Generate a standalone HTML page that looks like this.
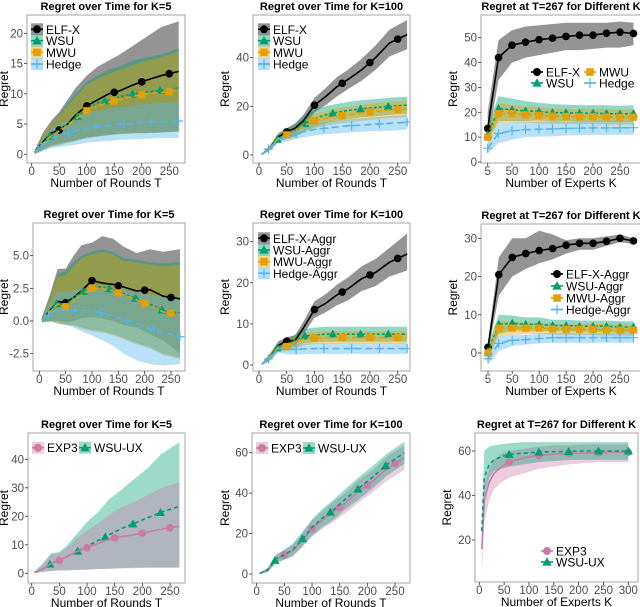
<!DOCTYPE html>
<html><head><meta charset="utf-8"><style>
html,body{margin:0;padding:0;background:#fff}
svg{display:block;font-family:"Liberation Sans",Arial,sans-serif}
</style></head><body>
<svg id="fig" width="640" height="607" viewBox="0 0 640 607"></svg>
<script>
// ---- data ----
const roundsT = [5,20,35,50,65,80,100,120,140,160,185,210,235,267];
const expertsK = [5,25,50,75,100,125,150,175,200,225,250,275];
const expertsK3 = [5,10,20,30,45,60,90,120,150,180,210,240,270,300];

// Panel 1 (K=5)
const p1ElfMean=[0.3,2,3.5,4,5,6.5,8,9,10,10.5,11.5,12.3,13,13.7];
const p1ElfLo=[0,0.8,1.5,1.8,2,2.3,2.8,3,3.2,3.4,3.5,3.5,3.6,3.8];
const p1ElfHi=[0.6,3.5,5.5,7,9,11,13,14.5,15.5,16.5,18,19.5,21,22];
const p1WsuMean=[0.3,1.8,3.2,4,5,6,7.5,8.5,9,9.5,10,10.3,10.6,11];
const p1WsuLo=[0,0.7,1.3,1.6,2,2.3,2.7,3,3.2,3.4,3.5,3.6,3.7,3.8];
const p1WsuHi=[0.6,3,5,6.5,8.5,10,12,13,14,14.5,15.5,16,16.5,17.5];
const p1MwuMean=[0.3,1.8,3,3.8,4.8,5.8,7.2,8,8.6,9,9.6,10,10.2,10.5];
const p1MwuLo=[0,0.7,1.2,1.5,1.9,2.2,2.6,2.9,3.1,3.3,3.4,3.5,3.6,3.7];
const p1MwuHi=[0.6,3,5,6.3,8,9.5,11.5,12.5,13.3,14,14.8,15.5,16,17];
const p1HedgeMean=[0.3,1.5,2.6,3.1,3.5,3.9,4.3,4.6,4.8,5,5.1,5.3,5.4,5.5];
const p1HedgeLo=[0,0.5,1,1.2,1.4,1.6,1.9,2.1,2.2,2.4,2.5,2.6,2.7,2.7];
const p1HedgeHi=[0.6,2.5,4.2,5,5.6,6.2,6.8,7.2,7.5,7.8,8,8.3,8.5,8.6];
// Panel 2 (K=100)
const p2ElfMean=[0.3,3,7.5,9.5,11,14,20.5,24,28,31,35,40,46,49.5];
const p2ElfLo=[0,2,6,8,9,11.5,17.5,20.5,24,27,30.5,35,40.5,43.5];
const p2ElfHi=[0.6,4,9,11,13,16.5,23.5,27.5,32,35,39.5,45,51.5,55.5];
const p2WsuMean=[0.3,3,7,8.5,10,12.5,15,16.5,17.5,18.3,19,19.5,20,20.5];
const p2WsuLo=[0,2,5.5,6.5,7.5,9.5,11.5,13,14,14.8,15.5,16,16.5,17];
const p2WsuHi=[0.6,4,8.5,10.5,12.5,15.5,18.5,20,21,21.8,22.5,23,23.5,24];
const p2MwuMean=[0.3,3,7,8.3,9.5,12,14,15,16,16.5,17.3,18,18.5,19];
const p2MwuLo=[0,2,5.7,6.6,7.5,9.5,11,12,12.8,13.3,14,14.7,15.2,15.6];
const p2MwuHi=[0.6,4,8.3,10,11.5,14.5,17,18,19.2,19.7,20.6,21.3,21.8,22.4];
const p2HedgeMean=[0.3,3,6.5,7.5,8.5,9.5,10.5,11,11.5,12,12.3,12.7,13,13.5];
const p2HedgeLo=[0,2,5,5.5,6.5,7.3,8,8.5,8.8,9.3,9.5,9.9,10,10.5];
const p2HedgeHi=[0.6,4,8,9.5,10.5,11.7,13,13.5,14.2,14.7,15.1,15.5,16,16.5];
// Panel 3 (T=267 vs K)
const p3ElfMean=[13.5,42,47,48.2,49.2,49.8,50.5,51,51,51.8,52.2,51.7];
const p3ElfLo=[8,33,40,42,43,44,45,45,45.5,46,46,47];
const p3ElfHi=[20,49,53,54.5,55,55.5,56,56,56,56,56.5,56];
const p3WsuMean=[11,21.5,21,20.5,20.3,19.8,19.8,19.6,19.6,19.5,19.3,19.5];
const p3WsuLo=[8,16.5,16.5,16.5,16.8,16.3,16.5,16.3,16.3,16.2,16,16.2];
const p3WsuHi=[14,26.5,25.5,24.5,23.8,23.3,23.1,22.9,22.9,22.8,22.6,22.8];
const p3MwuMean=[10,19.5,19.5,19,18.8,18.5,18.3,18.2,18.2,18.1,18,18];
const p3MwuLo=[7,15.5,16,15.7,15.6,15.3,15.3,15.2,15.2,15.1,15,15];
const p3MwuHi=[13,23.5,23,22.3,22,21.7,21.3,21.2,21.2,21.1,21,21];
const p3HedgeMean=[5.5,11.5,12.5,13,13.2,13.3,13.5,13.6,13.7,13.7,13.7,13.8];
const p3HedgeLo=[3.5,7.5,9,10,10.2,10.3,10.7,10.8,10.9,10.9,10.9,11];
const p3HedgeHi=[7.5,15.5,16,16,16.2,16.3,16.3,16.4,16.5,16.5,16.5,16.6];
// Panel 4 (K=5 aggr)
const p4ElfMean=[0.1,0.8,1.5,1.4,1.8,2.3,3.1,2.9,2.8,2.6,2.3,2.4,1.9,1.7];
const p4ElfLo=[-0.1,0,0,-0.1,0,0.2,0.3,0.2,0,-0.3,-0.5,-1,-1.5,-2.5];
const p4ElfHi=[0.3,2,4,4,5,5.8,6,6.5,6.3,5.7,5.2,5.5,5.3,5.5];
const p4WsuMean=[0.1,0.8,1.4,1.2,1.8,2.2,2.6,2.6,2.4,2.1,1.7,1.3,0.8,0.6];
const p4WsuLo=[-0.1,0,-0.2,-0.3,-0.3,-0.5,-0.7,-0.8,-1,-1.3,-1.7,-2,-2.5,-2.8];
const p4WsuHi=[0.3,1.8,3.6,3.8,4.5,5,5.3,5.5,5.3,4.8,4.7,4.5,4.4,4.5];
const p4MwuMean=[0.1,0.7,1.3,1.1,1.5,2,2.5,2.5,2.3,2,1.6,1.2,0.7,0.5];
const p4MwuLo=[-0.1,0,-0.2,-0.3,-0.4,-0.6,-0.8,-0.9,-1.1,-1.4,-1.8,-2.1,-2.6,-2.9];
const p4MwuHi=[0.3,1.7,3.4,3.5,4.2,4.8,5.1,5.3,5.1,4.6,4.5,4.3,4.2,4.3];
const p4HedgeMean=[0.1,0.5,0.9,0.8,0.8,0.8,0.8,0.6,0.4,0.1,-0.2,-0.6,-0.9,-1.2];
const p4HedgeLo=[-0.1,-0.1,0,-0.3,-0.5,-0.8,-1.1,-1.5,-1.9,-2.5,-3,-3.3,-3.4,-3.3];
const p4HedgeHi=[0.3,1.4,2.2,2.2,2.3,2.5,2.6,2.6,2.5,2.4,2.2,2,1.8,1.8];
// Panel 5 (K=100 aggr)
const p5ElfMean=[0.2,2,4.8,5.8,6,9,13.5,15,17,18.5,21,22.5,25,27];
const p5ElfLo=[0,1.2,3.8,4.8,4.8,7.5,11.5,12.8,14.5,15.7,18,19.2,21.5,23];
const p5ElfHi=[0.4,2.8,5.8,6.8,7.2,10.5,15.5,17.2,19.5,21.3,24,25.8,28.5,32];
const p5WsuMean=[0.2,2,4.5,5,6,7,7.3,7.5,7.5,7.5,7.5,7.5,7.5,7.5];
const p5WsuLo=[0,1.2,3.5,3.8,4.5,5.3,5.5,5.7,5.7,5.7,5.7,5.7,5.7,5.7];
const p5WsuHi=[0.4,2.8,5.5,6.2,7.5,8.7,9.1,9.3,9.3,9.3,9.3,9.3,9.3,9.3];
const p5MwuMean=[0.2,2,4.3,4.5,5.5,6.3,6.6,6.7,6.7,6.7,6.7,6.7,6.7,6.7];
const p5MwuLo=[0,1.2,3.3,3.3,4,4.8,5.1,5.2,5.2,5.2,5.2,5.2,5.2,5.2];
const p5MwuHi=[0.4,2.8,5.3,5.7,7,7.8,8.1,8.2,8.2,8.2,8.2,8.2,8.2,8.2];
const p5HedgeMean=[0.2,1.8,4,3.8,3.8,3.9,4,4,4,4,4,4,4,4];
const p5HedgeLo=[0,1,3,2.6,2.5,2.6,2.7,2.7,2.7,2.7,2.7,2.7,2.7,2.7];
const p5HedgeHi=[0.4,2.6,5,5,5.1,5.2,5.3,5.3,5.3,5.3,5.3,5.3,5.3,5.3];
// Panel 6 (T=267 aggr vs K)
const p6ElfMean=[1.5,20.5,25,26,26.8,27.3,28.2,28.7,28.7,29.2,30,29.3];
const p6ElfLo=[0,15,20,22,23.5,24.5,26,27,27,28,29,28.5];
const p6ElfHi=[3,25,30,30,32,31,29.5,30,30,30.5,31,30];
const p6WsuMean=[0.5,7.5,7.8,7.5,7.5,7.2,7.2,7,7,7,6.8,6.8];
const p6WsuLo=[-1,5,5.8,5.7,5.7,5.7,5.7,5.5,5.5,5.5,5.3,5.3];
const p6WsuHi=[2,10,9.8,9.3,9.3,8.7,8.7,8.5,8.5,8.5,8.3,8.3];
const p6MwuMean=[0,6.5,6.5,6.5,6.5,6.3,6.2,6.2,6.2,6,6,6];
const p6MwuLo=[-1.5,4.5,4.8,5,5,4.8,4.7,4.7,4.7,4.5,4.5,4.5];
const p6MwuHi=[1.5,8.5,8.2,8,8,7.8,7.7,7.7,7.7,7.5,7.5,7.5];
const p6HedgeMean=[-1.5,2.5,3.3,3.5,3.8,4,4,4,4,4,4,4];
const p6HedgeLo=[-3,0.5,1.8,2.2,2.5,2.7,2.7,2.7,2.7,2.7,2.7,2.7];
const p6HedgeHi=[0,4.5,4.8,4.8,5.1,5.3,5.3,5.3,5.3,5.3,5.3,5.3];
// Panel 7 (bandit K=5)
const p7Exp3Mean=[0.3,1.5,3.5,4.5,6,7.5,9,10.5,12,12.8,13.5,14.5,15.5,16.5];
const p7Exp3Lo=[0,0.5,0.8,1,1,1.2,1.3,1.5,1.6,1.8,1.8,2,2,2];
const p7Exp3Hi=[0.6,3,6.5,7,9,12,15,17.5,20.5,23,25,27.5,30,32];
const p7UxMean=[0.3,1.5,3.5,4.5,6,7.5,9.5,11.5,13.5,15.5,17.5,19.5,21.5,23.5];
const p7UxLo=[0,0.5,0.8,1,1,1.2,1.3,1.5,1.6,1.8,2,2,2,2];
const p7UxHi=[0.6,3.5,7,7.5,10,13.5,18,21.5,26,29,33,37,42,46];
// Panel 8 (bandit K=100)
const p8Exp3Mean=[0.3,2,7.5,9.5,11.5,16,22.5,27,31,35,41,46,52,57.5];
const p8Exp3Lo=[0,1,5.5,7,8.5,12.5,18.5,22.5,26,30,35.5,40.5,46,51.5];
const p8Exp3Hi=[0.6,3,9.5,12,14.5,19.5,26.5,31.5,36,40,46.5,51.5,58,63.5];
const p8UxMean=[0.3,2,7.5,9.5,12,16.5,23,28,32,37,42.5,48,54,60];
const p8UxLo=[0,1,5.5,7,9,13,19,23.5,27,32,37,42.5,48.5,54.5];
const p8UxHi=[0.6,3,9.5,12,15,20,27,32.5,37,42,48,53.5,59.5,65.5];
// Panel 9 (bandit T=267 vs K)
const p9Exp3Mean=[16,38,46,50,53,55,57,58,58.5,59,59,59.3,59.5,59.5];
const p9Exp3Lo=[5,28,38,43,46,48,50,52,53,54,54.5,55,55,55];
const p9Exp3Hi=[20,45,52,56,59,60,61,62,62.5,62.5,63,63,63,63];
const p9UxMean=[24,48,54,56,57.5,58.5,59,59.5,59.7,59.8,60,60,60,60];
const p9UxLo=[15,40,48,51,52,53,54,55,55.5,56,56,56,56,56];
const p9UxHi=[30,60,62,62.5,63,63.5,64,64,64,64,64,64,64,64];

const timeTicks=[0,50,100,150,200,250];
const kTicks=[5,50,100,150,200,250];
const kTicks3=[0,50,100,150,200,250,300];
const markT1=[50,100,150,200,250], markT2=[33,83,133,183,233], markT3=[17,67,117,167,217,267];
const markK=[5,25,50,75,100,125,150,175,200,225,250,275];
const markK3=[60,120,180,240,300];

// ---- styles ----
const ST={
 elf:{c:'#000',band:'#000',bo:.42,dash:'',m:'circle'},
 wsu:{c:'#009E73',band:'#009E73',bo:.42,dash:'3,2',m:'tri'},
 mwu:{c:'#E69F00',band:'#E69F00',bo:.42,dash:'6,3',m:'sq'},
 hedge:{c:'#56B4E9',band:'#56B4E9',bo:.42,dash:'7,4',m:'plus'},
 exp3:{c:'#CC79A7',band:'#CC79A7',bo:.38,dash:'',m:'circle'},
 ux:{c:'#009E73',band:'#009E73',bo:.38,dash:'4,3',m:'tri'}
};
const NS='http://www.w3.org/2000/svg';
const fig=document.getElementById('fig');
function el(tag,attrs,parent){const e=document.createElementNS(NS,tag);for(const k in attrs)e.setAttribute(k,attrs[k]);(parent||fig).appendChild(e);return e;}
function interp(xs,ys,x){if(x<=xs[0])return ys[0];for(let i=1;i<xs.length;i++){if(x<=xs[i]){const t=(x-xs[i-1])/(xs[i]-xs[i-1]);return ys[i-1]+t*(ys[i]-ys[i-1]);}}return ys[ys.length-1];}
function marker(g,type,x,y,c,s){
 s=s||1;let m;
 if(type==='circle')m=el('circle',{cx:x,cy:y,r:3.8*s,fill:c},g);
 else if(type==='tri')m=el('polygon',{points:`${x},${y-4.5*s} ${x-4.5*s},${y+3.5*s} ${x+4.5*s},${y+3.5*s}`,fill:c},g);
 else if(type==='sq')m=el('rect',{x:x-3.6*s,y:y-3.6*s,width:7.2*s,height:7.2*s,fill:c},g);
 else m=el('path',{d:`M${x-4.5*s},${y}H${x+4.5*s}M${x},${y-4.5*s}V${y+4.5*s}`,stroke:c,'stroke-width':1.2},g);
 return m;
}

function panel(cfg){
 const g=el('g',{});
 
 
 const sx=v=>cfg.xp[0]+(v-cfg.xv[0])*(cfg.xp[1]-cfg.xp[0])/(cfg.xv[1]-cfg.xv[0]);
 const sy=v=>cfg.yp[0]+(v-cfg.yv[0])*(cfg.yp[1]-cfg.yp[0])/(cfg.yv[1]-cfg.yv[0]);
 const clipId='clip'+cfg.name;
 const cp=el('clipPath',{id:clipId},g);el('rect',{x:cfg.L,y:cfg.T,width:cfg.R-cfg.L,height:cfg.B-cfg.T},cp);
 const bg=el('rect',{x:cfg.L,y:cfg.T,width:cfg.R-cfg.L,height:cfg.B-cfg.T,fill:'#fff'},g);
 
 
 const inner=el('g',{'clip-path':`url(#${clipId})`},g);
 cfg.series.forEach(s=>{const st=ST[s.k];
  let d='M'+s.x.map((x,i)=>sx(x).toFixed(1)+','+sy(s.hi[i]).toFixed(1)).join('L');
  for(let i=s.x.length-1;i>=0;i--)d+='L'+sx(s.x[i]).toFixed(1)+','+sy(s.lo[i]).toFixed(1);
  const b=el('path',{d:d+'Z',fill:st.band,'fill-opacity':st.bo},inner);
  
  
 });
 cfg.series.forEach(s=>{const st=ST[s.k];
  const ln=el('polyline',{points:s.x.map((x,i)=>sx(x).toFixed(1)+','+sy(s.m[i]).toFixed(1)).join(' '),fill:'none',stroke:st.c,'stroke-width':1.6,'stroke-dasharray':st.dash,'stroke-linejoin':'round'},inner);
  
  
  s.mk.forEach(mx=>{const mm=marker(inner,st.m,sx(mx),sy(interp(s.x,s.m,mx)),st.c);
   
   });
 });
 const border=el('rect',{x:cfg.L,y:cfg.T,width:cfg.R-cfg.L,height:cfg.B-cfg.T,fill:'none',stroke:'#b3b3b3','stroke-width':1.2},g);
 
 
 cfg.xt.forEach(v=>{const x=sx(v);
  el('line',{x1:x,x2:x,y1:cfg.B,y2:cfg.B+3,stroke:'#333','stroke-width':.8},g);
  const t=el('text',{x:x,y:cfg.B+12,'text-anchor':'middle','font-size':11.5,fill:'#4d4d4d'},g);t.textContent=v;
  
  });
 cfg.yt.forEach((v,i)=>{const y=sy(v);
  el('line',{x1:cfg.L-3,x2:cfg.L,y1:y,y2:y,stroke:'#333','stroke-width':.8},g);
  const t=el('text',{x:cfg.L-4,y:y+4,'text-anchor':'end','font-size':11.5,fill:'#4d4d4d'},g);t.textContent=cfg.ytl?cfg.ytl[i]:v;
  
  });
 const tt=el('text',{x:(cfg.L+cfg.R)/2,y:cfg.T-5,'text-anchor':'middle','font-size':11,'font-weight':'bold',fill:'#000'},g);tt.textContent=cfg.title;
 
 
 const xl=el('text',{x:(cfg.L+cfg.R)/2,y:cfg.B+24,'text-anchor':'middle','font-size':12,fill:'#000'},g);xl.textContent=cfg.xlab;
 
 
 const yx=cfg.yl, yy=(cfg.T+cfg.B)/2;
 const ylab=el('text',{x:yx,y:yy,'text-anchor':'middle','font-size':12,fill:'#000',transform:`rotate(-90 ${yx} ${yy})`},g);ylab.textContent='Regret';
 
 
 (cfg.leg||[]).forEach(e=>{const st=ST[e.k];
  const lg=el('g',{},g);
  
  
  if(e.box)el('rect',{x:e.x-6,y:e.y-6,width:12,height:12,fill:st.band,'fill-opacity':st.bo},lg);
  el('line',{x1:e.x-6,x2:e.x+6,y1:e.y,y2:e.y,stroke:st.c,'stroke-width':1.6},lg);
  marker(lg,st.m,e.x,e.y,st.c,1.05);
  const t=el('text',{x:e.x+9,y:e.y+4.5,'font-size':12,fill:'#000'},lg);t.textContent=e.t;
 });
}
const S=(k,x,m,lo,hi,mk)=>({k,x,m,lo,hi,mk});
const TL='Number of Rounds T', KL='Number of Experts K';

panel({name:'panel-k5',title:'Regret over Time for K=5',L:27,R:185,T:15,B:163,xp:[31.7,169.3],xv:[0,250],yp:[154.3,33.3],yv:[0,20],xt:timeTicks,yt:[0,5,10,15,20],xlab:TL,yl:8,
 series:[S('elf',roundsT,p1ElfMean,p1ElfLo,p1ElfHi,markT1),S('wsu',roundsT,p1WsuMean,p1WsuLo,p1WsuHi,markT2),S('mwu',roundsT,p1MwuMean,p1MwuLo,p1MwuHi,[100,150,200,250]),S('hedge',roundsT,p1HedgeMean,p1HedgeLo,p1HedgeHi,markT3)],
 leg:[{k:'elf',t:'ELF-X',x:37,y:29.3,box:1},{k:'wsu',t:'WSU',x:37,y:40.7,box:1},{k:'mwu',t:'MWU',x:37,y:52.3,box:1},{k:'hedge',t:'Hedge',x:37,y:64,box:1}]});
panel({name:'panel-k100',title:'Regret over Time for K=100',L:253,R:410,T:15,B:163,xp:[259,397.7],xv:[0,250],yp:[155,57.7],yv:[0,40],xt:timeTicks,yt:[0,20,40],xlab:TL,yl:229,
 series:[S('elf',roundsT,p2ElfMean,p2ElfLo,p2ElfHi,markT1),S('wsu',roundsT,p2WsuMean,p2WsuLo,p2WsuHi,markT2),S('mwu',roundsT,p2MwuMean,p2MwuLo,p2MwuHi,markT1),S('hedge',roundsT,p2HedgeMean,p2HedgeLo,p2HedgeHi,markT3)],
 leg:[{k:'elf',t:'ELF-X',x:264,y:29.3,box:1},{k:'wsu',t:'WSU',x:264,y:40.7,box:1},{k:'mwu',t:'MWU',x:264,y:52.3,box:1},{k:'hedge',t:'Hedge',x:264,y:64,box:1}]});
panel({name:'panel-vs-k',title:'Regret at T=267 for Different K',L:481,R:641,T:15,B:163,xp:[487.7,620],xv:[5,250],yp:[162,37.7],yv:[0,50],xt:kTicks,yt:[0,10,20,30,40,50],xlab:KL,yl:457,
 series:[S('elf',expertsK,p3ElfMean,p3ElfLo,p3ElfHi,markK),S('wsu',expertsK,p3WsuMean,p3WsuLo,p3WsuHi,markK),S('mwu',expertsK,p3MwuMean,p3MwuLo,p3MwuHi,markK),S('hedge',expertsK,p3HedgeMean,p3HedgeLo,p3HedgeHi,markK)],
 leg:[{k:'elf',t:'ELF-X',x:537,y:72},{k:'mwu',t:'MWU',x:590,y:72},{k:'wsu',t:'WSU',x:537,y:83},{k:'hedge',t:'Hedge',x:590,y:83}]});

panel({name:'panel-k5-aggr',title:'Regret over Time for K=5',L:33,R:185,T:223,B:371,xp:[39.3,171],xv:[0,250],yp:[321,255.7],yv:[0,5],xt:timeTicks,yt:[-2.5,0,2.5,5],ytl:['-2.5','0.0','2.5','5.0'],xlab:TL,yl:8,
 series:[S('elf',roundsT,p4ElfMean,p4ElfLo,p4ElfHi,markT1),S('wsu',roundsT,p4WsuMean,p4WsuLo,p4WsuHi,markT2),S('mwu',roundsT,p4MwuMean,p4MwuLo,p4MwuHi,markT1),S('hedge',roundsT,p4HedgeMean,p4HedgeLo,p4HedgeHi,markT3)]});
panel({name:'panel-k100-aggr',title:'Regret over Time for K=100',L:253,R:410,T:223,B:371,xp:[259,397.7],xv:[0,250],yp:[365,241.7],yv:[0,30],xt:timeTicks,yt:[0,10,20,30],xlab:TL,yl:229,
 series:[S('elf',roundsT,p5ElfMean,p5ElfLo,p5ElfHi,markT1),S('wsu',roundsT,p5WsuMean,p5WsuLo,p5WsuHi,markT2),S('mwu',roundsT,p5MwuMean,p5MwuLo,p5MwuHi,markT1),S('hedge',roundsT,p5HedgeMean,p5HedgeLo,p5HedgeHi,markT3)],
 leg:[{k:'elf',t:'ELF-X-Aggr',x:264,y:238.3,box:1},{k:'wsu',t:'WSU-Aggr',x:264,y:250,box:1},{k:'mwu',t:'MWU-Aggr',x:264,y:261.7,box:1},{k:'hedge',t:'Hedge-Aggr',x:264,y:273.3,box:1}]});
panel({name:'panel-vs-k-aggr',title:'Regret at T=267 for Different K',L:481,R:641,T:224,B:371,xp:[488,620],xv:[5,250],yp:[353,238.3],yv:[0,30],xt:kTicks,yt:[0,10,20,30],xlab:KL,yl:457,
 series:[S('elf',expertsK,p6ElfMean,p6ElfLo,p6ElfHi,markK),S('wsu',expertsK,p6WsuMean,p6WsuLo,p6WsuHi,markK),S('mwu',expertsK,p6MwuMean,p6MwuLo,p6MwuHi,markK),S('hedge',expertsK,p6HedgeMean,p6HedgeLo,p6HedgeHi,markK)],
 leg:[{k:'elf',t:'ELF-X-Aggr',x:557,y:274},{k:'wsu',t:'WSU-Aggr',x:557,y:286},{k:'mwu',t:'MWU-Aggr',x:557,y:298},{k:'hedge',t:'Hedge-Aggr',x:557,y:309.5}]});

panel({name:'panel-bandit-k5',title:'Regret over Time for K=5',L:28,R:185,T:433,B:583,xp:[31.7,170],xv:[0,250],yp:[573.3,459.3],yv:[0,40],xt:timeTicks,yt:[0,10,20,30,40],xlab:TL,yl:8,
 series:[S('ux',roundsT,p7UxMean,p7UxLo,p7UxHi,markT2),S('exp3',roundsT,p7Exp3Mean,p7Exp3Lo,p7Exp3Hi,markT1)],
 leg:[{k:'exp3',t:'EXP3',x:38,y:447.7,box:1},{k:'ux',t:'WSU-UX',x:85,y:447.7,box:1}]});
panel({name:'panel-bandit-k100',title:'Regret over Time for K=100',L:252,R:410,T:433,B:583,xp:[256.7,395],xv:[0,250],yp:[574,452.7],yv:[0,60],xt:timeTicks,yt:[0,20,40,60],xlab:TL,yl:229,
 series:[S('exp3',roundsT,p8Exp3Mean,p8Exp3Lo,p8Exp3Hi,markT1),S('ux',roundsT,p8UxMean,p8UxLo,p8UxHi,markT2)],
 leg:[{k:'exp3',t:'EXP3',x:262,y:448,box:1},{k:'ux',t:'WSU-UX',x:309,y:448,box:1}]});
panel({name:'panel-bandit-vs-k',title:'Regret at T=267 for Different K',L:475,R:638,T:433,B:582,xp:[479.3,628.3],xv:[0,300],yp:[540,451],yv:[20,60],xt:kTicks3,yt:[20,40,60],xlab:KL,yl:451,
 series:[S('exp3',expertsK3,p9Exp3Mean,p9Exp3Lo,p9Exp3Hi,markK3),S('ux',expertsK3,p9UxMean,p9UxLo,p9UxHi,markK3)],
 leg:[{k:'exp3',t:'EXP3',x:547,y:551},{k:'ux',t:'WSU-UX',x:547,y:562}]});
</script>
</body></html>
